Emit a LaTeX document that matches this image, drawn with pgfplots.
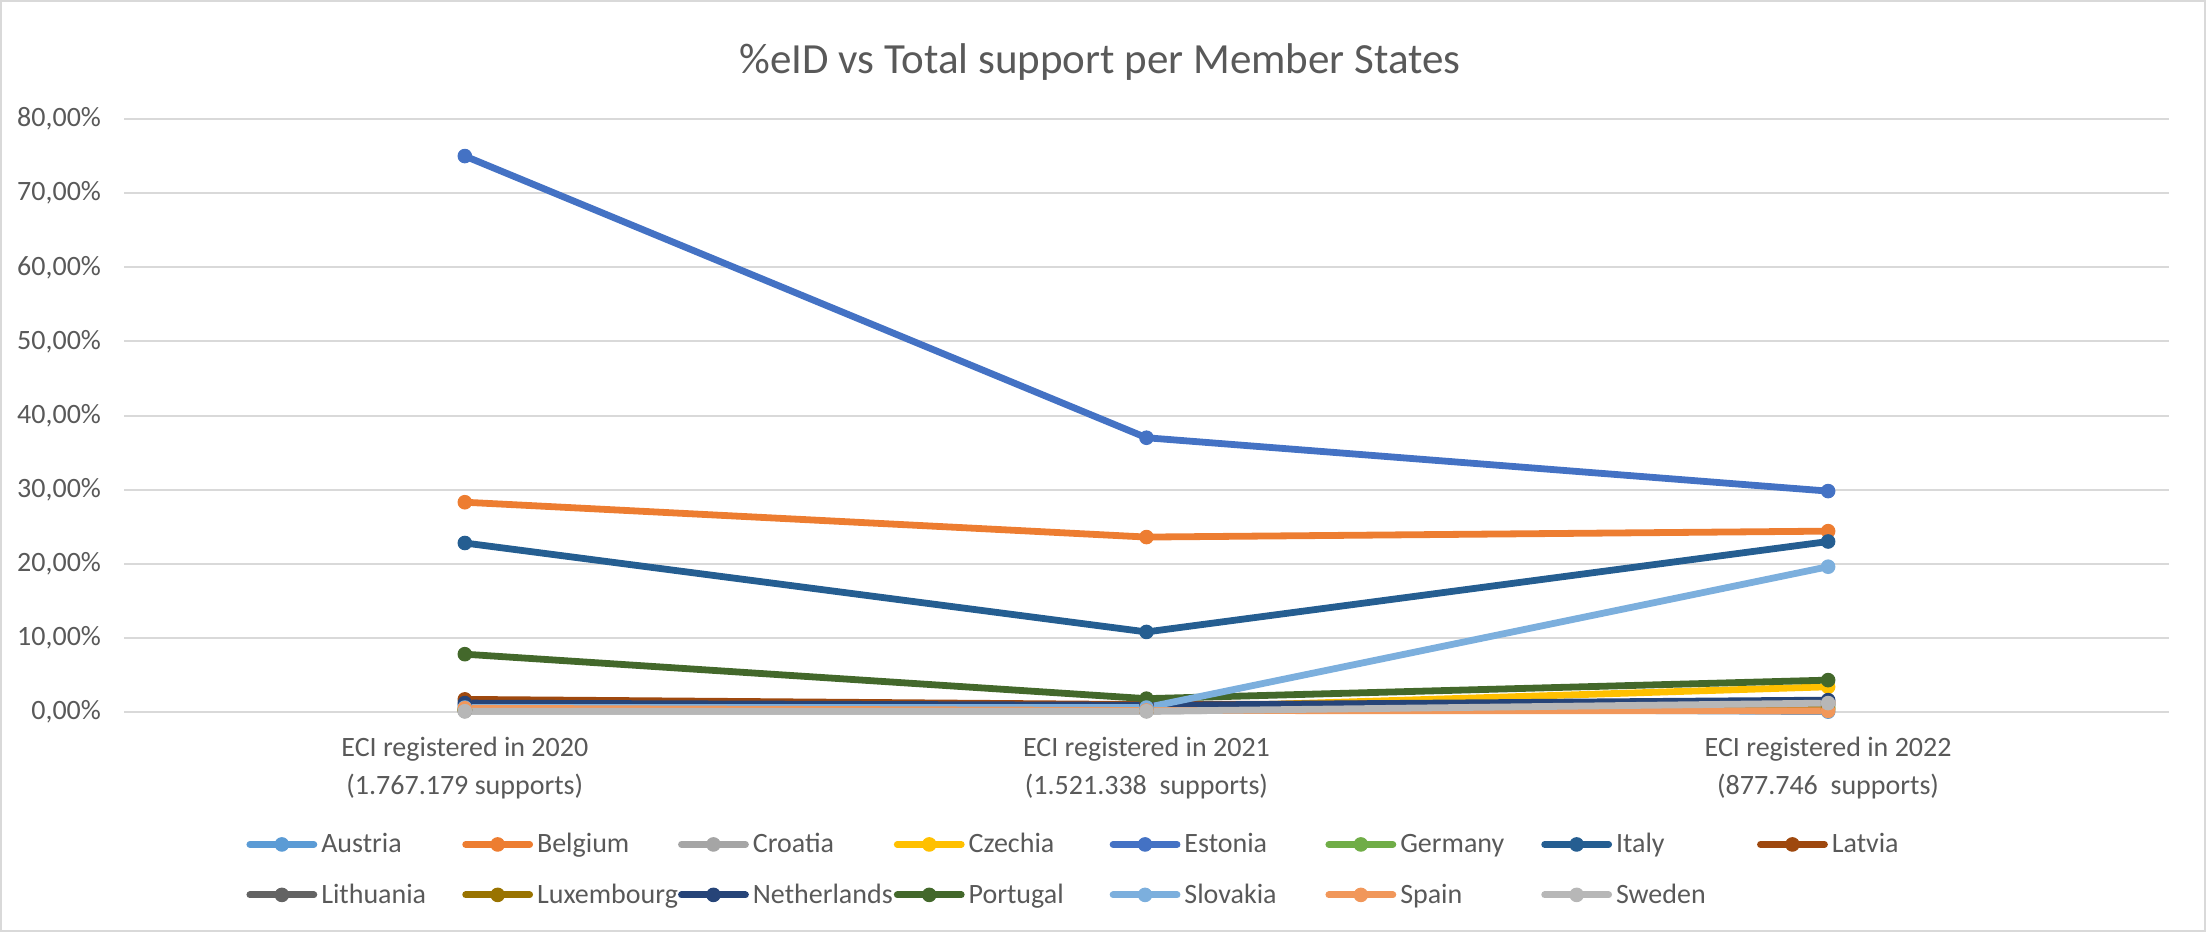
\documentclass[border=0pt]{standalone}
\usepackage{pgfplots}
\pgfplotsset{compat=1.18}
\usepackage{fontspec}
\setmainfont{Carlito}

\definecolor{txt}{HTML}{595959}
\definecolor{gridc}{HTML}{D9D9D9}
\definecolor{cAustria}{HTML}{5B9BD5}
\definecolor{cBelgium}{HTML}{ED7D31}
\definecolor{cCroatia}{HTML}{A5A5A5}
\definecolor{cCzechia}{HTML}{FFC000}
\definecolor{cEstonia}{HTML}{4472C4}
\definecolor{cGermany}{HTML}{70AD47}
\definecolor{cItaly}{HTML}{255E91}
\definecolor{cLatvia}{HTML}{9E480E}
\definecolor{cLithuania}{HTML}{636363}
\definecolor{cLuxembourg}{HTML}{997300}
\definecolor{cNetherlands}{HTML}{264478}
\definecolor{cPortugal}{HTML}{43682B}
\definecolor{cSlovakia}{HTML}{7CAFDD}
\definecolor{cSpain}{HTML}{F1975A}
\definecolor{cSweden}{HTML}{B7B7B7}

\newcommand{\lgbox}[1]{\makebox[68.5pt][l]{#1}}

\begin{document}
\begin{tikzpicture}
\useasboundingbox (0,0) rectangle (1103pt,466pt);
\draw[gridc, line width=1pt] (0.5pt,0.5pt) rectangle (1102.5pt,465.5pt);
\node[text=txt, font=\fontsize{21.5}{26}\selectfont] at (550pt,435pt) {\%eID vs Total support per Member States};

\begin{axis}[
    at={(62pt,110pt)}, anchor=south west,
    scale only axis, width=1022.5pt, height=296.5pt,
    xmin=-0.5, xmax=2.5, ymin=0, ymax=80,
    clip=false,
    axis line style={draw=none},
    tick style={draw=none},
    ymajorgrids, grid style={gridc, line width=1pt},
    xtick={0,1,2},
    xticklabels={{ECI registered in 2020\\(1.767.179 supports)},
                 {ECI registered in 2021\\(1.521.338\ \ supports)},
                 {ECI registered in 2022\\(877.746\ \ supports)}},
    ytick={0,10,20,30,40,50,60,70,80},
    yticklabels={{0,00\%},{10,00\%},{20,00\%},{30,00\%},{40,00\%},{50,00\%},{60,00\%},{70,00\%},{80,00\%}},
    tick label style={text=txt, font=\fontsize{14}{19}\selectfont},
    xticklabel style={align=center, yshift=-9pt},
    yticklabel style={xshift=-8pt},
    every axis plot/.append style={line width=3.4pt, line join=round, line cap=round,
        mark=*, mark size=3.4pt, mark options={solid, line width=0.5pt}},
    legend columns=8,
    legend cell align=left,
    legend style={at={(0.0597,-0.197)}, anchor=north west, draw=none, fill=none,
        text=txt, font=\fontsize{14}{17}\selectfont, row sep=10pt, inner sep=0pt},
    legend image code/.code={\draw[mark repeat=2,mark phase=2,#1] plot coordinates {(0pt,0pt) (16pt,0pt) (32pt,0pt)};},
]
\addplot[cAustria] coordinates {(0,0.9) (1,0.6) (2,0.05)};
\addplot[cBelgium] coordinates {(0,28.3) (1,23.6) (2,24.4)};
\addplot[cCroatia] coordinates {(0,0.1) (1,0.1) (2,1.1)};
\addplot[cCzechia] coordinates {(0,0.4) (1,0.5) (2,3.4)};
\addplot[cEstonia] coordinates {(0,75.0) (1,37.0) (2,29.8)};
\addplot[cGermany] coordinates {(0,0.3) (1,0.3) (2,0.6)};
\addplot[cItaly] coordinates {(0,22.8) (1,10.8) (2,23.0)};
\addplot[cLatvia] coordinates {(0,1.7) (1,1.0) (2,1.3)};
\addplot[cLithuania] coordinates {(0,0.2) (1,0.2) (2,0.9)};
\addplot[cLuxembourg] coordinates {(0,0.3) (1,0.2) (2,0.4)};
\addplot[cNetherlands] coordinates {(0,1.2) (1,0.9) (2,1.6)};
\addplot[cPortugal] coordinates {(0,7.8) (1,1.8) (2,4.3)};
\addplot[cSlovakia] coordinates {(0,0.6) (1,0.6) (2,19.6)};
\addplot[cSpain] coordinates {(0,0.5) (1,0.2) (2,0.15)};
\addplot[cSweden] coordinates {(0,0.1) (1,0.1) (2,1.2)};
\legend{\lgbox{Austria},\lgbox{Belgium},\lgbox{Croatia},\lgbox{Czechia},\lgbox{Estonia},\lgbox{Germany},\lgbox{Italy},\lgbox{Latvia},
        \lgbox{Lithuania},\lgbox{Luxembourg},\lgbox{Netherlands},\lgbox{Portugal},\lgbox{Slovakia},\lgbox{Spain},\lgbox{Sweden}}
\end{axis}
\end{tikzpicture}
\end{document}
